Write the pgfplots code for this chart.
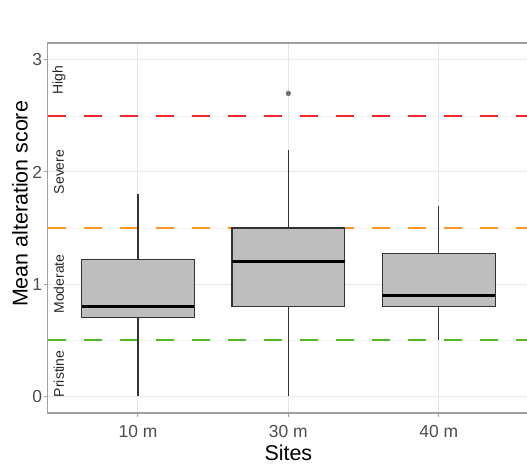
\documentclass[border=0pt]{standalone}
\usepackage{pgfplots}
\pgfplotsset{compat=1.18}
\usepgfplotslibrary{statistics}
\usepackage{fontspec}
\setmainfont{Liberation Sans}
\definecolor{boxfill}{HTML}{BEBEBE}
\definecolor{boxline}{HTML}{333333}
\definecolor{gridc}{HTML}{E6E6E6}
\definecolor{gridm}{HTML}{F2F2F2}
\definecolor{borderc}{HTML}{A0A0A0}
\definecolor{ticklab}{HTML}{4D4D4D}
\definecolor{redl}{RGB}{240,40,45}
\definecolor{orangel}{RGB}{250,150,35}
\definecolor{greenl}{RGB}{85,185,40}
\definecolor{outc}{HTML}{707070}
\begin{document}
\begin{tikzpicture}
\begin{axis}[
  at={(47.7bp,53bp)}, anchor=south west,
  scale only axis, width=481.3bp, height=370bp,
  xmin=0.4, xmax=3.6, ymin=-0.15, ymax=3.15,
  xtick={1,2,3}, xticklabels={10 m,30 m,40 m},
  ytick={0,1,2,3},
  minor ytick={0.5,1.5,2.5},
  xtick pos=bottom, ytick pos=left,
  grid=both,
  major grid style={draw=gridc, line width=0.9bp},
  minor grid style={draw=gridm, line width=0.5bp},
  tick align=outside, major tick length=3.5bp, minor tick length=0pt,
  tick style={draw=borderc, line width=0.9bp},
  axis line style={draw=borderc, line width=1.2bp},
  /pgf/number format/assume math mode=true,
  ticklabel style={font=\fontsize{17.5}{17.5}\selectfont, text=ticklab},
  xticklabel style={anchor=center, yshift=-15bp},
  yticklabel style={anchor=east, inner sep=0pt, xshift=-2bp},
  xlabel={Sites},
  xlabel style={font=\fontsize{21.5}{21.5}\selectfont, at={(axis description cs:0.5,0)}, anchor=center, yshift=-40bp},
  ylabel={Mean alteration score},
  ylabel style={font=\fontsize{21.5}{21.5}\selectfont, at={(axis description cs:-0.0576,0.565)}, anchor=center},
  boxplot/draw direction=y,
  boxplot/box extend=0.75,
  boxplot/whisker extend=0,
  boxplot/every box/.style={draw=boxline, fill=boxfill, line width=1.2bp},
  boxplot/every whisker/.style={draw=boxline, line width=1.2bp},
  boxplot/every median/.style={draw=black, line width=3.2bp},
]
% reference lines
\addplot[draw=greenl, line width=2.4bp, dash pattern=on 18bp off 18bp] coordinates {(0.4,0.5) (3.6,0.5)};
\addplot[draw=orangel, line width=2.4bp, dash pattern=on 18bp off 18bp] coordinates {(0.4,1.5) (3.6,1.5)};
\addplot[draw=redl, line width=2.4bp, dash pattern=on 18bp off 18bp] coordinates {(0.4,2.5) (3.6,2.5)};
% boxplots
\addplot[boxplot prepared={draw position=1, lower whisker=0, lower quartile=0.70, median=0.80, upper quartile=1.22, upper whisker=1.80}] coordinates {};
\addplot[boxplot prepared={draw position=2, lower whisker=0, lower quartile=0.80, median=1.20, upper quartile=1.50, upper whisker=2.20}, mark=*, mark size=2.4bp, mark options={fill=outc, draw=outc}] coordinates {(0,2.70)};
\addplot[boxplot prepared={draw position=3, lower whisker=0.5, lower quartile=0.80, median=0.90, upper quartile=1.27, upper whisker=1.70}] coordinates {};
% zone labels
\node[rotate=90, font=\fontsize{14}{14}\selectfont, text=black!85] at (axis cs:0.475,2.82) {High};
\node[rotate=90, font=\fontsize{14}{14}\selectfont, text=black!85] at (axis cs:0.475,2.0) {Severe};
\node[rotate=90, font=\fontsize{14}{14}\selectfont, text=black!85] at (axis cs:0.475,1.0) {Moderate};
\node[rotate=90, font=\fontsize{14}{14}\selectfont, text=black!85] at (axis cs:0.475,0.2) {Pristine};
\end{axis}
\pgfresetboundingbox
\path[use as bounding box] (0,0) rectangle (527bp,466bp);
\end{tikzpicture}
\end{document}
